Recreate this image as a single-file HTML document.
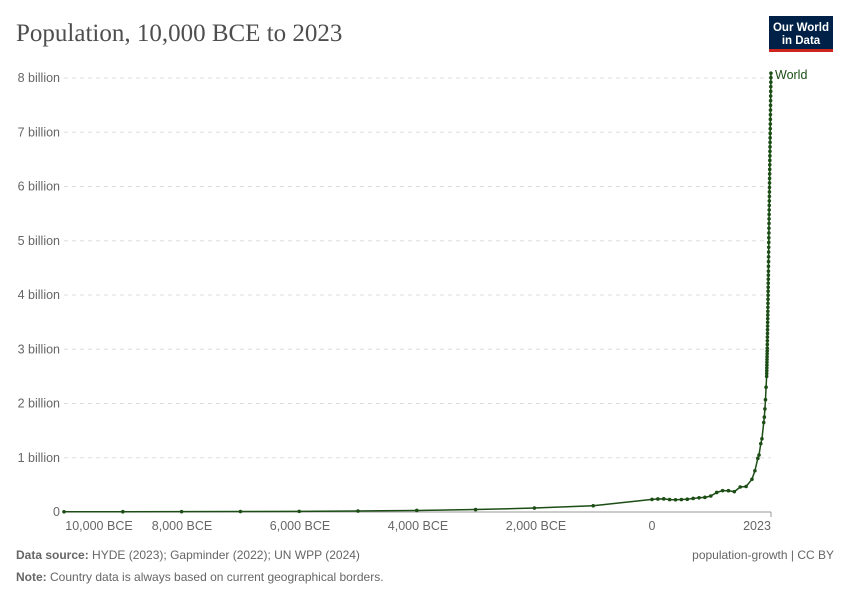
<!DOCTYPE html>
<html><head><meta charset="utf-8"><style>
body{margin:0;background:#fff;width:850px;height:600px;overflow:hidden;font-family:"Liberation Sans",sans-serif}
</style></head><body>
<svg id="s" width="850" height="600" xmlns="http://www.w3.org/2000/svg" font-family="Liberation Sans, sans-serif">
<text x="16" y="41" font-family="Liberation Serif, serif" font-size="25" fill="#4e4e4e">Population, 10,000 BCE to 2023</text>
<rect x="769" y="16" width="64" height="33" fill="#002147"/>
<rect x="769" y="49" width="64" height="3" fill="#ce261e"/>
<text x="801" y="31" font-size="11.5" fill="#fff" text-anchor="middle" font-weight="bold">Our World</text>
<text x="801" y="44" font-size="11.5" fill="#fff" text-anchor="middle" font-weight="bold">in Data</text>
<g id="grid" stroke="#ddd" stroke-dasharray="4,4"></g>
<g id="yl" font-size="12.5" fill="#666" text-anchor="end"></g>
<line x1="64" y1="512" x2="771" y2="512" stroke="#999"/>
<g font-size="12.5" fill="#666" text-anchor="middle">
<text x="99" y="530">10,000 BCE</text><text x="182" y="530">8,000 BCE</text><text x="300" y="530">6,000 BCE</text><text x="418" y="530">4,000 BCE</text><text x="536" y="530">2,000 BCE</text><text x="652" y="530">0</text><text x="757" y="530">2023</text>
</g>
<line x1="771" y1="512" x2="771" y2="517" stroke="#999"/>
<g id="data"></g>
<text x="775" y="79" font-size="12.5" fill="#1b4d15">World</text>
<text x="16" y="559" font-size="12" fill="#666"><tspan font-weight="bold">Data source:</tspan> HYDE (2023); Gapminder (2022); UN WPP (2024)</text>
<text x="16" y="581" font-size="12" fill="#666"><tspan font-weight="bold">Note:</tspan> Country data is always based on current geographical borders.</text>
<text x="834" y="559" font-size="12" fill="#666" text-anchor="end">population-growth | CC BY</text>
</svg>
<script>
var ns="http://www.w3.org/2000/svg",g=document.getElementById('grid'),yl=document.getElementById('yl');
for(var i=0;i<=8;i++){var y=512-i*54.25;
 if(i>0){var l=document.createElementNS(ns,'line');l.setAttribute('x1',64);l.setAttribute('x2',771);l.setAttribute('y1',y);l.setAttribute('y2',y);g.appendChild(l);}
 var t=document.createElementNS(ns,'text');t.setAttribute('x',60);t.setAttribute('y',y+4);t.textContent=i==0?'0':i+' billion';yl.appendChild(t);}
var d=[[-10000,.0044],[-9000,.0053],[-8000,.0065],[-7000,.0082],[-6000,.0114],[-5000,.0183],[-4000,.0284],[-3000,.0449],[-2000,.0726],[-1000,.115],[0,.232],[100,.24],[200,.243],[300,.229],[400,.226],[500,.23],[600,.236],[700,.25],[800,.262],[900,.27],[1000,.295],[1100,.36],[1200,.393],[1300,.392],[1400,.375],[1500,.461],[1600,.47],[1700,.603],[1750,.76],[1800,.989],[1820,1.05],[1850,1.26],[1870,1.35],[1900,1.65],[1910,1.75],[1920,1.9],[1930,2.07],[1940,2.3]];
var k=[[1950,2.5],[1960,3.02],[1970,3.7],[1980,4.44],[1990,5.32],[2000,6.15],[2010,6.98],[2020,7.84],[2023,8.09]];
for(var yr=1950;yr<=2023;yr++){for(var j=0;j<k.length-1;j++){if(yr>=k[j][0]&&yr<=k[j+1][0]){var f=(yr-k[j][0])/(k[j+1][0]-k[j][0]);d.push([yr,k[j][1]+f*(k[j+1][1]-k[j][1])]);break;}}}
function X(y){return 652+y*0.0588}function Y(v){return 512-v*54.25}
var p='',dg=document.getElementById('data');
d.forEach(function(a,i){p+=(i?'L':'M')+X(a[0]).toFixed(2)+','+Y(a[1]).toFixed(2);});
var pa=document.createElementNS(ns,'path');pa.setAttribute('d',p);pa.setAttribute('fill','none');pa.setAttribute('stroke','#1b4d15');pa.setAttribute('stroke-width','1.5');dg.appendChild(pa);
d.forEach(function(a){var c=document.createElementNS(ns,'circle');c.setAttribute('cx',X(a[0]));c.setAttribute('cy',Y(a[1]));c.setAttribute('r',1.8);c.setAttribute('fill','#1b4d15');dg.appendChild(c);});
</script>
</body></html>
